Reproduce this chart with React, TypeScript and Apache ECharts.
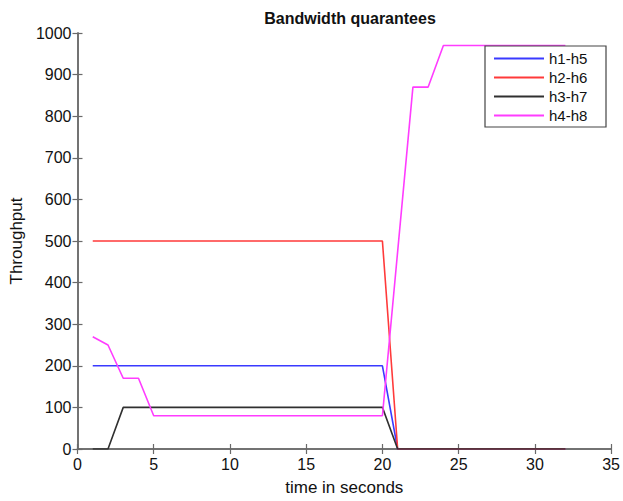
import React, { useEffect, useRef } from "react";
import * as echarts from "echarts";

const times = [1, 2, 3, 4, 5, 6, 7, 8, 9, 10, 11, 12, 13, 14, 15, 16, 17, 18, 19, 20, 21, 22, 23, 24, 25, 26, 27, 28, 29, 30, 31, 32];
const h1h5 = [200, 200, 200, 200, 200, 200, 200, 200, 200, 200, 200, 200, 200, 200, 200, 200, 200, 200, 200, 200, 0, 0, 0, 0, 0, 0, 0, 0, 0, 0, 0, 0];
const h2h6 = [500, 500, 500, 500, 500, 500, 500, 500, 500, 500, 500, 500, 500, 500, 500, 500, 500, 500, 500, 500, 0, 0, 0, 0, 0, 0, 0, 0, 0, 0, 0, 0];
const h3h7 = [0, 0, 100, 100, 100, 100, 100, 100, 100, 100, 100, 100, 100, 100, 100, 100, 100, 100, 100, 100, 0, 0, 0, 0, 0, 0, 0, 0, 0, 0, 0, 0];
const h4h8 = [270, 250, 170, 170, 80, 80, 80, 80, 80, 80, 80, 80, 80, 80, 80, 80, 80, 80, 80, 80, 475, 870, 870, 970, 970, 970, 970, 970, 970, 970, 970, 970];

const seriesNames = ["h1-h5", "h2-h6", "h3-h7", "h4-h8"];
const seriesValues = [h1h5, h2h6, h3h7, h4h8];
const seriesColors = ["#3a3aff", "#ff3a3a", "#303030", "#ff3cff"];

const FONT = "Arial, 'Liberation Sans', Helvetica, sans-serif";

export default function App() {
  const ref = useRef<HTMLDivElement>(null);
  useEffect(() => {
    if (!ref.current) return;
    const chart = echarts.init(ref.current, null, { renderer: "svg" });
    const axisLine = { show: true, lineStyle: { color: "#6a6a6a", width: 1.5 } };
    const tick = { show: true, inside: true, length: 5, lineStyle: { color: "#6a6a6a", width: 1.2 } };
    const plain = (v: number) => String(v);
    chart.setOption({
      animation: false,
      backgroundColor: "#ffffff",
      textStyle: { fontFamily: FONT },
      title: {
        text: "Bandwidth quarantees",
        left: 345,
        textAlign: "center",
        top: 5,
        textStyle: { fontSize: 16, fontWeight: "bold", color: "#111", fontFamily: FONT },
      },
      graphic: [
        {
          type: "rect",
          z: 9,
          shape: { x: 485, y: 46, width: 121, height: 81 },
          style: { fill: "#ffffff", stroke: "#444", lineWidth: 1.2 },
        },
      ],
      legend: {
        orient: "vertical",
        left: 485,
        top: 46,
        itemWidth: 50,
        itemHeight: 2,
        itemGap: 4,
        icon: "rect",
        padding: [5, 6, 5, 9],
        z: 10,
        textStyle: { fontSize: 15, color: "#111", fontFamily: FONT, padding: [0, 0, 0, 0] },
        data: seriesNames,
      },
      grid: { left: 76, right: 11, top: 33, bottom: 50, containLabel: false },
      xAxis: [
        {
          type: "value",
          min: 0,
          max: 35,
          interval: 5,
          position: "bottom",
          name: "time in seconds",
          nameLocation: "middle",
          nameGap: 30,
          nameTextStyle: { fontSize: 17, color: "#111", fontFamily: FONT },
          axisLine,
          axisTick: tick,
          axisLabel: { fontSize: 16, color: "#111", margin: 7, fontFamily: FONT, formatter: plain },
          splitLine: { show: false },
        },
        {
          type: "value",
          min: 0,
          max: 35,
          interval: 5,
          position: "top",
          axisLine,
          axisTick: tick,
          axisLabel: { show: false },
          splitLine: { show: false },
        },
      ],
      yAxis: [
        {
          type: "value",
          min: 0,
          max: 1000,
          interval: 100,
          position: "left",
          name: "Throughput",
          nameLocation: "middle",
          nameGap: 52,
          nameTextStyle: { fontSize: 17, color: "#111", fontFamily: FONT },
          axisLine,
          axisTick: tick,
          axisLabel: { fontSize: 16, color: "#111", margin: 6, fontFamily: FONT, formatter: plain },
          splitLine: { show: false },
        },
        {
          type: "value",
          min: 0,
          max: 1000,
          interval: 100,
          position: "right",
          axisLine,
          axisTick: tick,
          axisLabel: { show: false },
          splitLine: { show: false },
        },
      ],
      series: seriesNames.map((name, i) => ({
        name,
        type: "line",
        xAxisIndex: 0,
        yAxisIndex: 0,
        symbol: "none",
        showSymbol: false,
        color: seriesColors[i],
        lineStyle: { color: seriesColors[i], width: 1.6 },
        data: times.map((t, j) => [t, seriesValues[i][j]]),
        z: 2 + i,
      })),
    });
    return () => chart.dispose();
  }, []);
  return <div ref={ref} style={{ width: 623, height: 501, position: "absolute", left: 0, top: 0 }} />;
}
